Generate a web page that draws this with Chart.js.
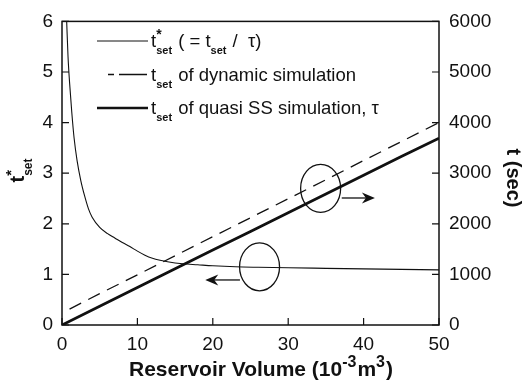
<!DOCTYPE html>
<html>
<head>
<meta charset="utf-8">
<script src="https://cdn.jsdelivr.net/npm/chart.js@4/dist/chart.umd.min.js"></script>
<style>
  html, body { margin: 0; padding: 0; background: #fff; }
</style>
</head>
<body>
<canvas id="chart" width="522" height="387"></canvas>
<script>
// reservoir volume (10^-3 m^3) and normalised settling time t*set
var volumeCurve = [0.62, 0.8, 1.0, 1.3, 1.6, 2.0, 2.5, 3.0, 3.5, 4.0, 5.0, 6.0, 7.0, 8.0, 9.0, 10, 11, 12, 13, 14, 16, 18, 20, 23, 26, 30, 35, 40, 45, 50];
var tStarSet = [6.0, 5.3, 4.8, 4.2, 3.7, 3.25, 2.85, 2.55, 2.3, 2.13, 1.93, 1.81, 1.72, 1.63, 1.55, 1.46, 1.38, 1.32, 1.28, 1.25, 1.21, 1.19, 1.17, 1.15, 1.14, 1.13, 1.12, 1.11, 1.10, 1.09];

// settling time in seconds (right axis)
var volumeDynamic = [1, 5, 10, 15, 20, 25, 30, 35, 40, 45, 50];
var tSetDynamic = [315, 620, 990, 1370, 1745, 2120, 2495, 2870, 3250, 3625, 4000];
var volumeQuasi = [0, 5, 10, 15, 20, 25, 30, 35, 40, 45, 50];
var tSetQuasi = [0, 370, 740, 1110, 1480, 1850, 2220, 2590, 2960, 3330, 3690];

var xTicks = [0, 10, 20, 30, 40, 50];
var yTicks = [0, 1, 2, 3, 4, 5, 6];
var y2Ticks = [0, 1000, 2000, 3000, 4000, 5000, 6000];

// circled groups with arrows pointing to the axis they belong to
var notes = [
  { axis: 'y', cx: 26.2, cy: 1.15, from: 23.6, to: 19.0, ay: 0.89 },
  { axis: 'y2', cx: 34.3, cy: 2700, from: 37.1, to: 41.5, ay: 2510 }
];

function pts(xs, ys) {
  return xs.map(function (v, i) { return { x: v, y: ys[i] }; });
}

var FONT = '"Liberation Sans", Arial, sans-serif';

// draws text pieces: normal, 'sub', 'sup', or both (sup over sub)
function richText(ctx, x, y, parts, size, weight) {
  var small = Math.round(size * 0.6);
  var cx = x;
  parts.forEach(function (p) {
    if (p.n !== undefined) {
      ctx.font = weight + ' ' + size + 'px ' + FONT;
      ctx.fillText(p.n, cx, y);
      cx += ctx.measureText(p.n).width;
    } else {
      var w = 0;
      if (p.sup) {
        ctx.font = 'bold ' + Math.round(size * 0.75) + 'px ' + FONT;
        ctx.fillText(p.sup, cx, y - size * 0.42);
        w = Math.max(w, ctx.measureText(p.sup).width);
      }
      if (p.sub) {
        ctx.font = 'bold ' + small + 'px ' + FONT;
        ctx.fillText(p.sub, cx, y + size * 0.38);
        w = Math.max(w, ctx.measureText(p.sub).width);
      }
      cx += w + 1;
    }
  });
  return cx - x;
}

function measureRich(ctx, parts, size, weight) {
  ctx.save();
  ctx.globalAlpha = 0;
  var w = richText(ctx, 0, 0, parts, size, weight);
  ctx.restore();
  return w;
}

var decor = {
  id: 'decor',
  afterDraw: function (chart) {
    var ctx = chart.ctx, a = chart.chartArea;
    var sx = chart.scales.x, sy = chart.scales.y, sy2 = chart.scales.y2;
    ctx.save();
    ctx.strokeStyle = '#111';
    ctx.fillStyle = '#111';

    // frame and inward ticks
    ctx.lineWidth = 1.5;
    ctx.strokeRect(a.left, a.top, a.right - a.left, a.bottom - a.top);
    ctx.lineWidth = 1.2;
    ctx.beginPath();
    xTicks.forEach(function (v) {
      var px = sx.getPixelForValue(v);
      ctx.moveTo(px, a.bottom); ctx.lineTo(px, a.bottom - 7);
    });
    yTicks.forEach(function (v) {
      var py = sy.getPixelForValue(v);
      ctx.moveTo(a.left, py); ctx.lineTo(a.left + 7, py);
    });
    y2Ticks.forEach(function (v) {
      var py = sy2.getPixelForValue(v);
      ctx.moveTo(a.right, py); ctx.lineTo(a.right - 7, py);
    });
    ctx.stroke();

    // legend
    var rows = [
      { dash: [], w: 1, parts: [{ n: 't' }, { sup: '*', sub: 'set' }, { n: ' ( = t' }, { sub: 'set' }, { n: ' /  \u03c4)' }] },
      { dash: [6, 5, 22, 0], w: 1.3, parts: [{ n: 't' }, { sub: 'set' }, { n: ' of dynamic simulation' }] },
      { dash: [], w: 2.6, parts: [{ n: 't' }, { sub: 'set' }, { n: ' of quasi SS simulation, \u03c4' }] }
    ];
    rows.forEach(function (r, i) {
      var ly = 41 + i * 33.5;
      ctx.lineWidth = r.w;
      ctx.setLineDash(r.dash);
      ctx.beginPath();
      ctx.moveTo(r.dash.length ? 108 : 97, ly);
      ctx.lineTo(148, ly);
      ctx.stroke();
      ctx.setLineDash([]);
      ctx.textBaseline = 'alphabetic';
      ctx.textAlign = 'left';
      richText(ctx, 151, ly + 6, r.parts, 18.5, 'normal');
    });

    // circles and arrows
    ctx.lineWidth = 1.3;
    notes.forEach(function (n) {
      var sc = chart.scales[n.axis];
      var cx = sx.getPixelForValue(n.cx), cy = sc.getPixelForValue(n.cy);
      ctx.beginPath();
      ctx.ellipse(cx, cy, 20, 24, 0, 0, Math.PI * 2);
      ctx.stroke();
      var x0 = sx.getPixelForValue(n.from), x1 = sx.getPixelForValue(n.to);
      var ay = sc.getPixelForValue(n.ay);
      var dir = x1 > x0 ? 1 : -1;
      ctx.beginPath();
      ctx.moveTo(x0, ay); ctx.lineTo(x1 - dir * 6, ay);
      ctx.stroke();
      ctx.beginPath();
      ctx.moveTo(x1, ay);
      ctx.lineTo(x1 - dir * 13, ay - 5.5);
      ctx.lineTo(x1 - dir * 9, ay);
      ctx.lineTo(x1 - dir * 13, ay + 5.5);
      ctx.closePath();
      ctx.fill();
    });

    // axis titles
    ctx.textAlign = 'left';
    var xt = [{ n: 'Reservoir Volume (10' }, { sup: '-3' }, { n: 'm' }, { sup: '3' }, { n: ')' }];
    var w = measureRich(ctx, xt, 21, 'bold');
    richText(ctx, 261 - w / 2, 376, xt, 21, 'bold');

    var lt = [{ n: 't' }, { sup: '*', sub: 'set' }];
    w = measureRich(ctx, lt, 20, 'bold');
    ctx.save();
    ctx.translate(24, 170);
    ctx.rotate(-Math.PI / 2);
    richText(ctx, -w / 2, 0, lt, 20, 'bold');
    ctx.restore();

    var rt = [{ n: 't (sec)' }];
    w = measureRich(ctx, rt, 20, 'bold');
    ctx.save();
    ctx.translate(507, 178);
    ctx.rotate(Math.PI / 2);
    richText(ctx, -w / 2, 0, rt, 20, 'bold');
    ctx.restore();

    ctx.restore();
  }
};

var tickFont = { family: FONT, size: 19 };
var plain = function (v) { return String(v); };

new Chart(document.getElementById('chart'), {
  type: 'line',
  data: {
    datasets: [
      { data: pts(volumeCurve, tStarSet), yAxisID: 'y', borderColor: '#111', borderWidth: 1.1, pointRadius: 0, cubicInterpolationMode: 'monotone', fill: false },
      { data: pts(volumeDynamic, tSetDynamic), yAxisID: 'y2', borderColor: '#111', borderWidth: 1.3, borderDash: [13, 8], pointRadius: 0, fill: false },
      { data: pts(volumeQuasi, tSetQuasi), yAxisID: 'y2', borderColor: '#111', borderWidth: 2.8, pointRadius: 0, fill: false }
    ]
  },
  options: {
    responsive: false,
    animation: false,
    layout: { padding: { top: 18, left: 0, right: 0, bottom: 0 } },
    plugins: { legend: { display: false }, tooltip: { enabled: false } },
    scales: {
      x: {
        type: 'linear', min: 0, max: 50,
        grid: { display: false, drawTicks: false },
        border: { display: false },
        ticks: { stepSize: 10, color: '#111', font: tickFont, padding: 8, maxRotation: 0, callback: plain },
        afterFit: function (s) { s.height = 62; }
      },
      y: {
        position: 'left', min: 0, max: 6,
        grid: { display: false, drawTicks: false },
        border: { display: false },
        ticks: { stepSize: 1, color: '#111', font: tickFont, padding: 9, callback: plain },
        afterFit: function (s) { s.width = 62; }
      },
      y2: {
        position: 'right', min: 0, max: 6000,
        grid: { display: false, drawTicks: false },
        border: { display: false },
        ticks: { stepSize: 1000, color: '#111', font: tickFont, padding: 10, callback: plain },
        afterFit: function (s) { s.width = 83; }
      }
    }
  },
  plugins: [decor]
});
</script>
</body>
</html>
